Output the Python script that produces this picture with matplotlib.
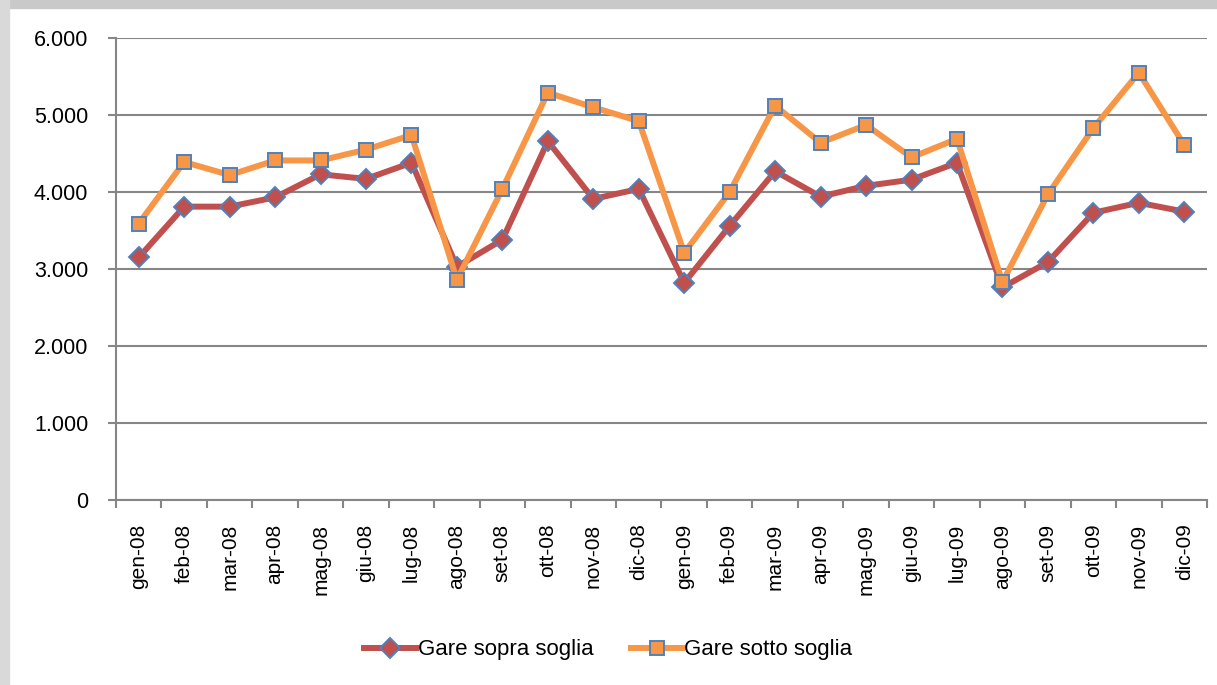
import matplotlib.pyplot as plt
import matplotlib.patches as patches
from matplotlib.ticker import FuncFormatter, FixedLocator
import numpy as np

mesi = ['gen-08', 'feb-08', 'mar-08', 'apr-08', 'mag-08', 'giu-08', 'lug-08', 'ago-08',
        'set-08', 'ott-08', 'nov-08', 'dic-08', 'gen-09', 'feb-09', 'mar-09', 'apr-09',
        'mag-09', 'giu-09', 'lug-09', 'ago-09', 'set-09', 'ott-09', 'nov-09', 'dic-09']

sopra_soglia = [3150, 3810, 3810, 3930, 4230, 4170, 4380, 3030, 3380, 4660, 3910, 4040,
                2820, 3560, 4270, 3940, 4080, 4160, 4380, 2760, 3090, 3730, 3860, 3745]

sotto_soglia = [3590, 4390, 4220, 4410, 4410, 4550, 4740, 2860, 4040, 5290, 5100, 4920,
                3210, 4000, 5120, 4640, 4870, 4450, 4690, 2830, 3970, 4830, 5550, 4610]

plt.rcParams['font.family'] = ['Liberation Sans', 'DejaVu Sans']

fig = plt.figure(figsize=(12.17, 6.85), dpi=100)
# cornice grigia in alto e a sinistra
fig.patches.append(patches.Rectangle((0, 1 - 8 / 685), 1, 8 / 685, transform=fig.transFigure,
                                     color='#c9c9c9', zorder=0))
fig.patches.append(patches.Rectangle((0, 0), 9 / 1217, 1, transform=fig.transFigure,
                                     color='#d9d9d9', zorder=0))

ax = fig.add_axes([116 / 1217, 1 - 500 / 685, 1091 / 1217, 462 / 685])

x = np.arange(len(mesi))
ax.plot(x, sopra_soglia, color='#c0504d', lw=4.3, marker='D', markersize=10,
        markerfacecolor='#c0504d', markeredgecolor='#4f81bd', markeredgewidth=1.4,
        label='Gare sopra soglia', zorder=3)
ax.plot(x, sotto_soglia, color='#f79646', lw=4.3, marker='s', markersize=10.5,
        markerfacecolor='#f79646', markeredgecolor='#4f81bd', markeredgewidth=1.4,
        label='Gare sotto soglia', zorder=4)

ax.set_xlim(-0.5, len(mesi) - 0.5)
ax.set_ylim(0, 6000)
ax.set_yticks(range(0, 6001, 1000))
ax.yaxis.set_major_formatter(FuncFormatter(lambda v, p: f'{int(v):,}'.replace(',', '.')))
ax.grid(axis='y', color='#868686', lw=1.5)
ax.set_axisbelow(True)

ax.xaxis.set_major_locator(FixedLocator(np.arange(-0.5, len(mesi), 1.0)))
ax.xaxis.set_major_formatter(FuncFormatter(lambda v, p: ''))
ax.xaxis.set_minor_locator(FixedLocator(x))
ax.set_xticklabels(mesi, minor=True, rotation=90)
ax.tick_params(axis='x', which='minor', length=0, pad=17, labelsize=15)
ax.tick_params(axis='x', which='major', length=6, width=1.5, color='#868686')
ax.tick_params(axis='y', length=6, width=1.5, color='#868686', pad=14, labelsize=15.5)

for s in ['top', 'right']:
    ax.spines[s].set_visible(False)
for s in ['left', 'bottom']:
    ax.spines[s].set_color('#868686')
    ax.spines[s].set_linewidth(1.5)

fig.legend(loc='center', bbox_to_anchor=(0.5, 1 - 650 / 685), ncol=2, frameon=False,
           fontsize=16, handlelength=2.3, columnspacing=1.7, handletextpad=0.1)

fig.savefig('out.png', dpi=100)
